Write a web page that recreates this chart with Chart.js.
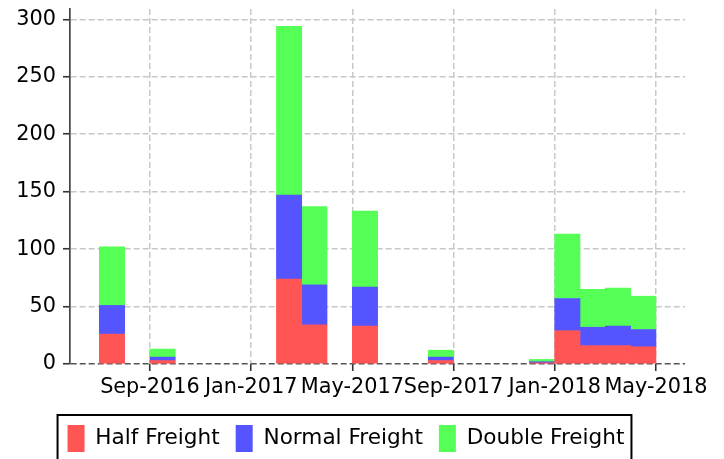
<!DOCTYPE html>
<html><head><meta charset="utf-8">
<script src="https://cdn.jsdelivr.net/npm/chart.js@4/dist/chart.umd.min.js"></script>
<style>html,body{margin:0;padding:0;background:#fff;} canvas{display:block;}</style>
</head><body>
<canvas id="c" width="724" height="459"></canvas>
<script>
// ---- data ----
const months = ['2016-07','2016-09','2017-02','2017-03','2017-05','2017-08','2017-12','2018-01','2018-02','2018-03','2018-04'];
const halfFreight   = [26, 3, 74, 34, 33, 3, 1, 29, 16, 16, 15];
const normalFreight = [25, 3, 73, 35, 34, 3, 1, 28, 16, 17, 15];
const doubleFreight = [51, 7, 147, 68, 66, 6, 2, 56, 33, 33, 29];
const xTickLabels = ['Sep-2016','Jan-2017','May-2017','Sep-2017','Jan-2018','May-2018'];
const yTicks = [0, 50, 100, 150, 200, 250, 300];
const seriesNames = ['Half Freight','Normal Freight','Double Freight'];
const seriesColors = ['#ff5555','#5555ff','#55ff55'];

// ---- helpers ----
const MONTH_NAMES = ['Jan','Feb','Mar','Apr','May','Jun','Jul','Aug','Sep','Oct','Nov','Dec'];
function monthIndex(y, m) { return (y - 2016) * 12 + (m - 1); }
const barX = months.map(s => { const [y, m] = s.split('-').map(Number); return monthIndex(y, m) + 0.5; });
const tickX = xTickLabels.map(s => { const [mn, y] = s.split('-'); return monthIndex(+y, MONTH_NAMES.indexOf(mn) + 1); });
const labelFor = v => { const i = tickX.findIndex(t => Math.abs(t - v) < 1e-6); return i >= 0 ? xTickLabels[i] : ''; };

const seriesValues = [halfFreight, normalFreight, doubleFreight];
const datasets = seriesValues.map((vals, k) => ({
  label: seriesNames[k],
  data: vals.map((v, i) => ({ x: barX[i], y: v })),
  backgroundColor: seriesColors[k],
  borderWidth: 0,
  barPercentage: 1,
  categoryPercentage: 1
}));

Chart.defaults.font.family = 'DejaVu Sans';
Chart.defaults.font.size = 20.8;
Chart.defaults.color = '#000';

const legendFrame = {
  id: 'legendFrame',
  afterDraw(chart) {
    const lg = chart.legend;
    if (!lg || !lg.legendHitBoxes || !lg.legendHitBoxes.length) return;
    const hb = lg.legendHitBoxes;
    const first = hb[0], last = hb[hb.length - 1];
    const left = first.left - 10, right = last.left + last.width + 7;
    const top = first.top - 10;
    const ctx = chart.ctx;
    ctx.save();
    ctx.strokeStyle = '#000';
    ctx.lineWidth = 2;
    ctx.strokeRect(left, top, right - left, 70);
    ctx.restore();
  }
};

new Chart(document.getElementById('c'), {
  type: 'bar',
  data: { datasets },
  plugins: [legendFrame],
  options: {
    responsive: false,
    animation: false,
    layout: { padding: { top: 9, left: 0, right: 32, bottom: -3 } },
    plugins: {
      tooltip: { enabled: false },
      legend: {
        position: 'bottom',
        labels: { boxWidth: 17, boxHeight: 27, padding: 16, color: '#000', font: { size: 21.6 } }
      }
    },
    scales: {
      x: {
        type: 'linear',
        stacked: true,
        offset: false,
        min: 4.84,
        max: 29.15,
        afterBuildTicks: (s) => { s.ticks = tickX.map(v => ({ value: v })); },
        afterFit: (s) => { s.height = 45; s.paddingLeft = 0; s.paddingRight = 39; },
        ticks: { autoSkip: false, maxRotation: 0, minRotation: 0, padding: 4, callback: (v) => labelFor(v), color: '#000' },
        grid: { offset: false, color: '#c8c8c8', lineWidth: 1.5, tickLength: 7, tickColor: '#333', tickWidth: 1.6, tickBorderDash: [] },
        border: { display: false, dash: [6, 3] }
      },
      y: {
        stacked: true,
        min: 0,
        max: 309,
        afterBuildTicks: (s) => { s.ticks = yTicks.map(v => ({ value: v })); },
        afterFit: (s) => { s.width = 70; s.paddingTop = 0; s.paddingBottom = 0; },
        ticks: { padding: 7, color: '#000' },
        grid: {
          color: (c) => (c.tick && c.tick.value === 0 ? '#555' : '#c8c8c8'),
          lineWidth: 1.5, tickLength: 7, tickColor: '#333', tickWidth: 1.6, tickBorderDash: []
        },
        border: { display: true, color: '#444', width: 1.7, dash: [6, 3] }
      }
    }
  }
});
</script>
</body></html>
